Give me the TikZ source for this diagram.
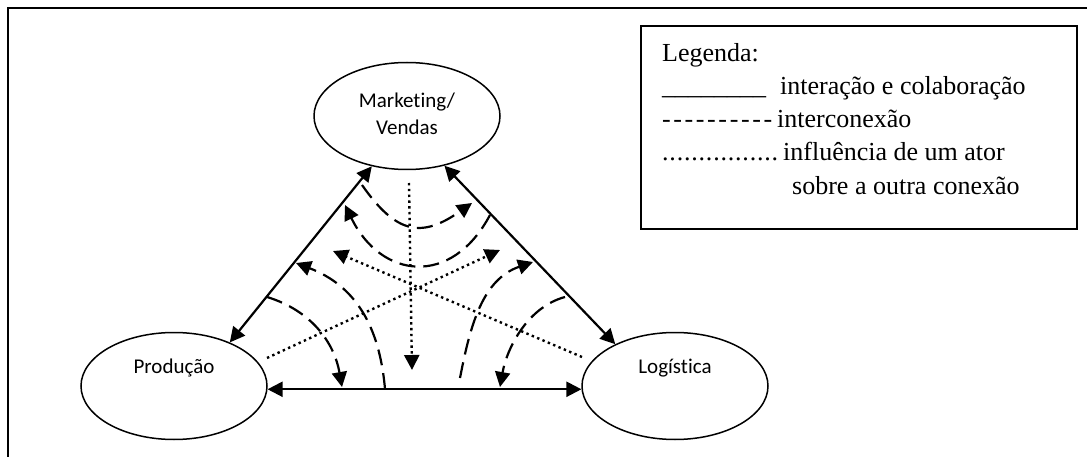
\documentclass[tikz,border=0pt]{standalone}
\usepackage{fontspec}
\setmainfont{Liberation Serif}
\newfontfamily\calfont{Carlito}[Ligatures={NoCommon,NoRequired,NoContextual}]
\usetikzlibrary{arrows.meta,shapes.geometric}

\begin{document}
\begin{tikzpicture}[x=1pt,y=1pt,
  >={Triangle[length=15pt,width=15pt]},
  actor/.style={draw, ellipse, line width=1.5pt, minimum width=186pt,
    minimum height=107pt, inner sep=0pt},
  actorlabel/.style={font=\calfont\fontsize{21}{27}\selectfont, align=center,
    inner sep=0pt},
  link/.style={line width=2.2pt, <->},
  inter/.style={line width=2.2pt, dash pattern=on 16pt off 8pt, ->},
  infl/.style={line width=2.4pt, dash pattern=on 2.4pt off 3.4pt, ->},
  legendtext/.style={font=\fontsize{26}{31}\selectfont, anchor=base west,
    inner sep=0pt},
]
\useasboundingbox (0,0) rectangle (1087,-457);

% page frame (top and left sides)
\draw[line width=2pt] (1087,-8) -- (8,-8) -- (8,-457);

% the three actors
\node[actor] (mkt)  at (407,-116) {};
\node[actor] (prod) at (174,-386) {};
\node[actor] (log)  at (675,-386) {};
\node[actorlabel] (mkttext)  at (407,-114) {Mark{}eting/\\Vendas};
\node[actorlabel] (prodtext) at (174,-368) {Produção};
\node[actorlabel] (logtext)  at (675,-368) {Logíst{}ica};

% interaction and collaboration
\draw[link] (mkt.235) -- (prod.38);
\draw[link] (mkt.307) -- (log.145);
\draw[link] (prod.-2) -- (log.182);

% interconnection arcs
\coordinate (a1s) at (362,-185);  \coordinate (a1e) at (472,-203);
\coordinate (a2s) at (490,-215);  \coordinate (a2e) at (345,-205);
\coordinate (a3s) at (385,-389);  \coordinate (a3e) at (296,-263);
\coordinate (a4s) at (267,-297);  \coordinate (a4e) at (342,-387);
\coordinate (a5s) at (460,-378);  \coordinate (a5e) at (533,-262);
\coordinate (a6s) at (565,-297);  \coordinate (a6e) at (500,-387);
\draw[inter] (a1s) to[out=-55,in=215,looseness=1.4] (a1e);
\draw[inter] (a2s) to[out=242,in=296,looseness=1.45] (a2e);
\draw[inter] (a3s) to[out=95,in=339,looseness=1.05] (a3e);
\draw[inter] (a4s) to[out=-17,in=100] (a4e);
\draw[inter] (a5s) to[out=79,in=199] (a5e);
\draw[inter] (a6s) to[out=195,in=80,looseness=0.9] (a6e);

% influence of one actor on the other connection
\coordinate (d0s) at (409,-183);  \coordinate (d0e) at (412,-370);
\coordinate (d1s) at (267,-358);  \coordinate (d1e) at (500,-250);
\coordinate (d2s) at (582,-357);  \coordinate (d2e) at (333,-251);
\draw[infl] (d0s) -- (d0e);
\draw[infl] (d1s) -- (d1e);
\draw[infl] (d2s) -- (d2e);

% legend
\draw[line width=2pt] (641,-26) rectangle (1077,-229);
\node[legendtext] (lg0) at (662,-62) {Legenda:};
\node[legendtext] (lg1) at (662,-95)
  {\makebox[118pt][l]{\_\_\_\_\_\_\_\_}interação e colaboração};
\node[legendtext] (lg2) at (662,-128)
  {\hbox to 110pt{-\hfil-\hfil-\hfil-\hfil-\hfil-\hfil-\hfil-\hfil-\hfil-}\hspace{5pt}interconexão};
\node[legendtext] (lg3) at (662,-161)
  {\hbox to 116pt{.\hfil.\hfil.\hfil.\hfil.\hfil.\hfil.\hfil.\hfil.\hfil.\hfil.\hfil.\hfil.\hfil.\hfil.\hfil.}\hspace{5pt}influência de um ator};
\node[legendtext] (lg4) at (792,-195) {sobre a outra conexão};
\end{tikzpicture}
\end{document}
